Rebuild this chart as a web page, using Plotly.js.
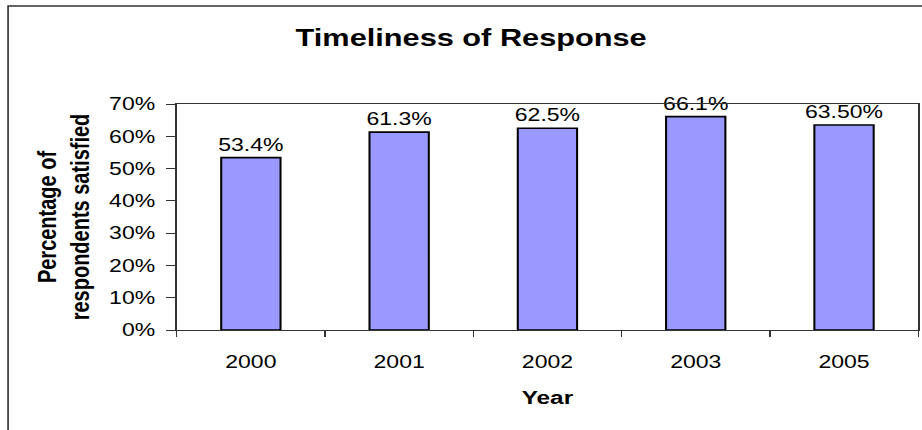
<!DOCTYPE html>
<html>
<head>
<meta charset="utf-8">
<script src="https://cdn.plot.ly/plotly-3.0.1.min.js"></script>
<style>
  html, body { margin: 0; padding: 0; background: #ffffff; overflow: hidden; }
  /* The chart is laid out at 720px and widened to fill the 922px page. */
  #chart { width: 720px; height: 430px; transform: scaleX(1.28056); transform-origin: 0 0; }
</style>
</head>
<body>
<div id="chart"></div>
<script>
// Survey years and share of respondents satisfied with timeliness
const years = ['2000', '2001', '2002', '2003', '2005'];
const satisfied = [0.534, 0.613, 0.625, 0.661, 0.635];
// Decimal places shown on each bar's label
const labelDecimals = [1, 1, 1, 1, 2];
const yTicks = [0, 0.1, 0.2, 0.3, 0.4, 0.5, 0.6, 0.7];

const FONT = '"Liberation Sans", Arial, sans-serif';

// Plot-area margins (px) used to place the outer chart frame
const M = { l: 138, r: 3, t: 104, b: 100 };
const W = 720, H = 430;
const pw = W - M.l - M.r, ph = H - M.t - M.b;
const px = v => (v - M.l) / pw;          // page x -> paper x
const py = v => (H - M.b - v) / ph;      // page y -> paper y

const trace = {
  type: 'bar',
  x: years,
  y: satisfied,
  marker: { color: '#9999ff', line: { color: '#000000', width: 1.6 } },
  texttemplate: labelDecimals.map(d => '%{y:.' + d + '%}'),
  textposition: 'outside',
  constraintext: 'none',
  cliponaxis: false,
  textfont: { family: FONT, size: 18, color: '#000000' },
  hoverinfo: 'skip'
};

const layout = {
  width: W,
  height: H,
  margin: M,
  paper_bgcolor: '#ffffff',
  plot_bgcolor: '#ffffff',
  showlegend: false,
  bargap: 0.6,
  font: { family: FONT, color: '#000000' },
  title: {
    text: '<b>Timeliness of Response</b>',
    font: { family: FONT, size: 24, color: '#000000' },
    x: 0.511, xref: 'container', xanchor: 'center',
    y: 1 - 38 / H, yref: 'container', yanchor: 'middle'
  },
  xaxis: {
    type: 'category',
    showline: true, linecolor: '#333333', linewidth: 1.2, mirror: true,
    showgrid: false, zeroline: false,
    ticks: 'outside', tickson: 'boundaries', ticklen: 6, tickwidth: 1, tickcolor: '#333333',
    tickfont: { family: FONT, size: 18, color: '#000000' },
    ticklabelstandoff: 15,
    automargin: false,
    title: { text: '<b>Year</b>', font: { family: FONT, size: 19, color: '#000000' }, standoff: 20 }
  },
  yaxis: {
    range: [0, 0.7],
    tickvals: yTicks,
    tickformat: '.0%',
    showline: true, linecolor: '#333333', linewidth: 1.2, mirror: true,
    showgrid: false, zeroline: false,
    ticks: 'outside', ticklen: 7, tickwidth: 1, tickcolor: '#333333',
    tickfont: { family: FONT, size: 18, color: '#000000' },
    ticklabelstandoff: 5,
    automargin: false,
    title: {
      text: '<b>Percentage of<br>respondents satisfied</b>',
      font: { family: FONT, size: 20, color: '#000000' },
      standoff: 9
    }
  },
  shapes: [
    // Outer chart frame
    {
      type: 'rect', xref: 'paper', yref: 'paper', layer: 'below',
      x0: px(6.3), x1: px(W + 6), y0: py(H + 6), y1: py(6),
      line: { color: '#333333', width: 1.3 }, fillcolor: 'rgba(0,0,0,0)'
    }
  ]
};

Plotly.newPlot('chart', [trace], layout, { displayModeBar: false, staticPlot: true });
</script>
</body>
</html>
